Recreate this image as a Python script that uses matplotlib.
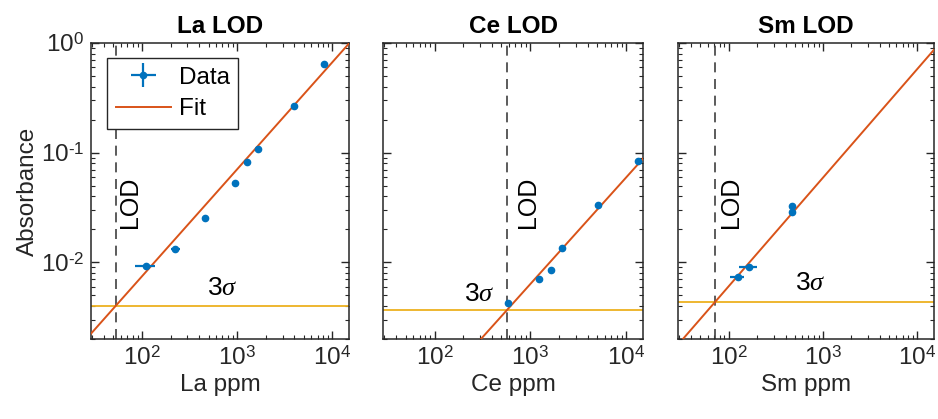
import numpy as np
import matplotlib
matplotlib.use("Agg")
import matplotlib.pyplot as plt
from matplotlib.ticker import LogLocator, NullFormatter, FuncFormatter

plt.rcParams['font.family'] = ['Liberation Sans', 'DejaVu Sans']
plt.rcParams['mathtext.fontset'] = 'custom'
plt.rcParams['mathtext.rm'] = 'Liberation Sans'
plt.rcParams['mathtext.it'] = 'Liberation Serif:italic'
plt.rcParams['axes.unicode_minus'] = False

BLUE = '#0072BD'
ORANGE = '#D95319'
YELLOW = '#EDB120'

# ---- data ----
elements = ['La', 'Ce', 'Sm']

la_ppm = [111, 224, 457, 946, 1280, 1645, 3980, 8130]
la_abs = [0.00933, 0.01316, 0.0256, 0.0533, 0.0817, 0.109, 0.267, 0.647]
la_xerr = [27, 25, 0, 0, 0, 0, 0, 0]
la_yerr = [0.0002, 0.0004, 0.0003, 0.0004, 0.0005, 0.0006, 0.001, 0.002]

ce_ppm = [583, 1220, 1645, 2146, 5050, 13430]
ce_abs = [0.00424, 0.0071, 0.00853, 0.01353, 0.0332, 0.0840]
ce_xerr = [0, 0, 0, 0, 0, 0]
ce_yerr = [0.0001, 0.0001, 0.0002, 0.0002, 0.0004, 0.001]

sm_ppm = [124, 165, 471, 471]
sm_abs = [0.00731, 0.00902, 0.0327, 0.0290]
sm_xerr = [22, 36, 0, 0]
sm_yerr = [0.0004, 0.0004, 0.002, 0.002]

# fit: log10(A) = intercept + slope*log10(ppm)
fit_intercept = [-4.076, -5.114, -4.200]
fit_slope = [0.975, 0.972, 0.991]
sigma3 = [0.00401, 0.00368, 0.00433]

xs = [la_ppm, ce_ppm, sm_ppm]
ys = [la_abs, ce_abs, sm_abs]
xerrs = [la_xerr, ce_xerr, sm_xerr]
yerrs = [la_yerr, ce_yerr, sm_yerr]

XLIM = (29, 1.5e4)
YLIM = (0.002, 1.0)


def pow_fmt(v, pos):
    e = int(round(np.log10(v)))
    if e < 0:
        return r'$10^{\text{-}%d}$' % (-e)
    return r'$10^{%d}$' % e


fig = plt.figure(figsize=(9.38, 4.19), dpi=100)
lefts = [91/938, 383/938, 678/938]
widths = [258/938, 260/938, 256/938]
bottom = 1 - 339/419
height = (339 - 43) / 419

lod_text_pos = [(0.152, 0.463), (0.556, 0.463), (0.206, 0.463)]
sig_text_pos = [(0.508, 0.172), (0.369, 0.152), (0.516, 0.189)]

DARK = '#262626'

for i, el in enumerate(elements):
    ax = fig.add_axes([lefts[i], bottom, widths[i], height])
    ax.set_xscale('log')
    ax.set_yscale('log')
    ax.set_xlim(*XLIM)
    ax.set_ylim(*YLIM)

    xf = np.logspace(np.log10(XLIM[0]), np.log10(XLIM[1]), 200)
    yf = 10 ** (fit_intercept[i] + fit_slope[i] * np.log10(xf))
    ax.axhline(sigma3[i], color=YELLOW, lw=1.3, zorder=2)
    lod = 10 ** ((np.log10(sigma3[i]) - fit_intercept[i]) / fit_slope[i])
    ax.axvline(lod, color='#404040', lw=1.2, ls=(0, (6, 4)), zorder=2)

    eb = ax.errorbar(xs[i], ys[i], xerr=xerrs[i], yerr=yerrs[i], fmt='o',
                     color=BLUE, ms=4.5, elinewidth=1.6, capsize=0, zorder=4,
                     label='Data')
    fl, = ax.plot(xf, yf, color=ORANGE, lw=1.4, zorder=3, label='Fit')

    ax.text(*lod_text_pos[i], 'LOD', rotation=90, transform=ax.transAxes,
            ha='center', va='center', fontsize=18, color='k')
    ax.text(*sig_text_pos[i], r'3$\sigma$', transform=ax.transAxes,
            ha='center', va='center', fontsize=19, color='k')

    ax.set_title(f'{el} LOD', fontsize=17.5, fontweight='bold', pad=7)
    ax.set_xlabel(f'{el} ppm', fontsize=17.5, labelpad=3)
    if i == 0:
        ax.set_ylabel('Absorbance', fontsize=17.5, labelpad=1)
        ax.legend(handles=[eb, fl], loc='upper left',
                  bbox_to_anchor=(0.062, 0.949), fontsize=17.5, frameon=True,
                  fancybox=False, edgecolor=DARK, framealpha=1,
                  borderpad=0.35, handlelength=2.3, labelspacing=0.4,
                  handletextpad=0.3, borderaxespad=0)

    ax.xaxis.set_major_locator(LogLocator(base=10, numticks=10))
    ax.xaxis.set_minor_locator(LogLocator(base=10, subs=np.arange(2, 10), numticks=20))
    ax.yaxis.set_major_locator(LogLocator(base=10, numticks=10))
    ax.yaxis.set_minor_locator(LogLocator(base=10, subs=np.arange(2, 10), numticks=20))
    ax.xaxis.set_minor_formatter(NullFormatter())
    ax.yaxis.set_minor_formatter(NullFormatter())
    ax.xaxis.set_major_formatter(FuncFormatter(pow_fmt))
    if i == 0:
        ax.yaxis.set_major_formatter(FuncFormatter(pow_fmt))
    else:
        ax.yaxis.set_major_formatter(NullFormatter())
    ax.tick_params(which='both', direction='in', top=True, right=True,
                   labelsize=17.5, colors=DARK, labelcolor=DARK)
    ax.tick_params(which='major', length=6, width=1, pad=5)
    ax.tick_params(which='minor', length=3, width=0.8)
    for sp in ax.spines.values():
        sp.set_color(DARK)
        sp.set_linewidth(1.1)
    ax.xaxis.label.set_color(DARK)
    ax.yaxis.label.set_color(DARK)

fig.savefig('out.png', dpi=100)
